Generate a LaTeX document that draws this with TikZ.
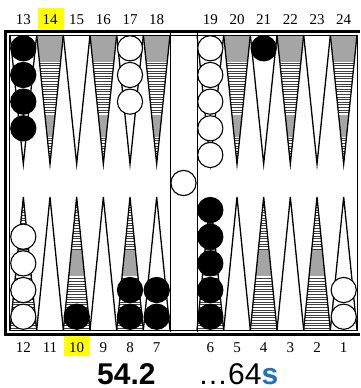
\documentclass[tikz,border=0pt]{standalone}
\usepackage{fontspec}
\setmainfont{Liberation Serif}
\newfontfamily\sansf{Liberation Sans}
\definecolor{sblue}{RGB}{30,115,190}
\definecolor{hilite}{RGB}{255,255,0}
\definecolor{shadegray}{RGB}{165,165,165}
\begin{document}
\begin{tikzpicture}[x=1pt,y=-1pt,
  ptline/.style={draw=black,line width=1.3pt,line join=miter},
  stripe/.style={draw=black!75,line width=0.5pt},
  bk/.style={fill=black,draw=black,line width=1.1pt},
  wt/.style={fill=white,draw=black,line width=1.1pt},
  lbl/.style={font=\fontsize{15}{15}\selectfont,inner sep=0pt,anchor=base}]
\useasboundingbox (0,0) rectangle (360,388);
\fill[white] (0,0) rectangle (360,388);
% highlights
\fill[hilite] (38,8) rectangle (64,31);
\fill[hilite] (64,334) rectangle (90,356);
% points
\foreach \i in {0,...,5}{
  \foreach \xo in {10,197}{
    \pgfmathsetmacro\xl{\xo+\i*26.67}
    \pgfmathsetmacro\xm{\xl+13.33}
    \pgfmathsetmacro\xr{\xl+26.67}
    % top
    \ifodd\i
      \begin{scope}
        \clip (\xl,35) -- (\xm,164) -- (\xr,35) -- cycle;
        \fill[shadegray] (\xl,35) rectangle (\xr,62);
        \foreach \yy in {63,65.6,...,114} \draw[stripe] (\xl,\yy) -- (\xr,\yy);
        \fill[shadegray] (\xl,115) rectangle (\xr,137);
        \foreach \yy in {138,140.6,...,164} \draw[stripe] (\xl,\yy) -- (\xr,\yy);
      \end{scope}
    \fi
    \draw[ptline] (\xl,35) -- (\xm,164) -- (\xr,35);
    % bottom
    \ifodd\i\else
      \begin{scope}
        \clip (\xl,330) -- (\xm,197) -- (\xr,330) -- cycle;
        \foreach \yy in {328,325.4,...,277} \draw[stripe] (\xl,\yy) -- (\xr,\yy);
        \fill[shadegray] (\xl,276) rectangle (\xr,250);
        \foreach \yy in {249,246.4,...,197} \draw[stripe] (\xl,\yy) -- (\xr,\yy);
      \end{scope}
    \fi
    \draw[ptline] (\xl,330) -- (\xm,197) -- (\xr,330);
  }
}
% frame
\draw[line width=0.8pt] (9,35) -- (357.5,35);
\draw[line width=0.8pt] (9,330) -- (357.5,330);
\draw[line width=0.8pt] (9,35) -- (9,330);
\draw[line width=0.8pt] (357.5,35) -- (357.5,330);
\draw[line width=0.8pt] (170,33) -- (170,332);
\draw[line width=0.8pt] (197,33) -- (197,332);
\draw[line width=3pt] (4,31.5) -- (360,31.5);
\draw[line width=3pt] (5.5,30) -- (5.5,335.5);
\draw[line width=3pt] (4,334) -- (360,334);
% checkers top
\foreach \k in {0,...,3} \draw[bk] (23.3,48.3+\k*26.67) circle (12.6);
\foreach \k in {0,...,2} \draw[wt] (130,48.3+\k*26.67) circle (12.6);
\foreach \k in {0,...,4} \draw[wt] (210.3,48.3+\k*26.67) circle (12.6);
\draw[bk] (263.7,48.3) circle (12.6);
% checkers bottom
\foreach \k in {0,...,3} \draw[wt] (23.3,316.7-\k*26.67) circle (12.6);
\draw[bk] (76.7,316.7) circle (12.6);
\foreach \k in {0,1} \draw[bk] (130,316.7-\k*26.67) circle (12.6);
\foreach \k in {0,1} \draw[bk] (156.7,316.7-\k*26.67) circle (12.6);
\foreach \k in {0,...,4} \draw[bk] (210.3,316.7-\k*26.67) circle (12.6);
\foreach \k in {0,1} \draw[wt] (343.7,316.7-\k*26.67) circle (12.6);
% bar
\draw[wt] (183.5,183) circle (12.6);
% labels
\node[lbl] (t13) at (23.3,24) {13};
\node[lbl] (t14) at (50,24) {14};
\node[lbl] (t15) at (76.7,24) {15};
\node[lbl] (t16) at (103.3,24) {16};
\node[lbl] (t17) at (130,24) {17};
\node[lbl] (t18) at (156.7,24) {18};
\node[lbl] (t19) at (210.3,24) {19};
\node[lbl] (t20) at (237,24) {20};
\node[lbl] (t21) at (263.7,24) {21};
\node[lbl] (t22) at (290.3,24) {22};
\node[lbl] (t23) at (317,24) {23};
\node[lbl] (t24) at (343.7,24) {24};
\node[lbl] (b12) at (23.3,352) {12};
\node[lbl] (b11) at (50,352) {11};
\node[lbl] (b10) at (76.7,352) {10};
\node[lbl] (b9) at (103.3,352) {9};
\node[lbl] (b8) at (130,352) {8};
\node[lbl] (b7) at (156.7,352) {7};
\node[lbl] (b6) at (210.3,352) {6};
\node[lbl] (b5) at (237,352) {5};
\node[lbl] (b4) at (263.7,352) {4};
\node[lbl] (b3) at (290.3,352) {3};
\node[lbl] (b2) at (317,352) {2};
\node[lbl] (b1) at (343.7,352) {1};
% bottom text
\node[inner sep=0pt,anchor=base west,font=\sansf\fontsize{30}{30}\selectfont\bfseries] (score) at (97,384) {54.2};
\node[inner sep=0pt,anchor=base west,font=\sansf\fontsize{30}{30}\selectfont] (roll) at (198,384) {…64\textcolor{sblue}{\bfseries s}};
\end{tikzpicture}
\end{document}
